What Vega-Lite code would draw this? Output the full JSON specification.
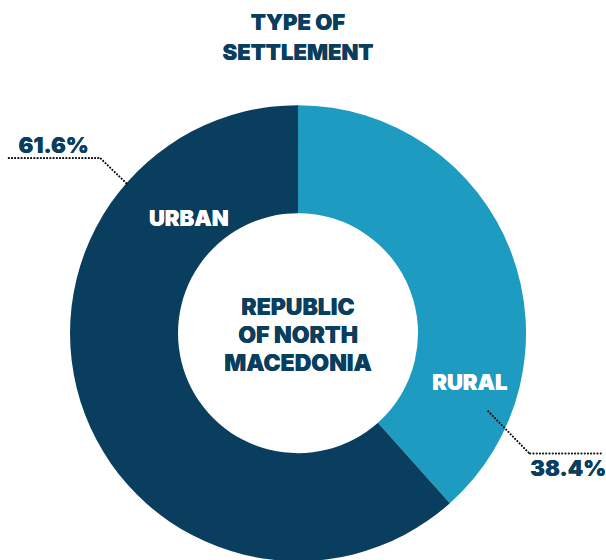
{
  "$schema": "https://vega.github.io/schema/vega-lite/v6.json",
  "width": 606,
  "height": 560,
  "padding": 0,
  "autosize": {"type": "fit", "contains": "padding"},
  "background": "white",
  "config": {"view": {"stroke": null}, "text": {"font": "Inter", "fontWeight": 900}},
  "data": {"values": [
    {"type": "RURAL", "share": 38.4},
    {"type": "URBAN", "share": 61.6}
  ]},
  "layer": [
    {
      "mark": {"type": "arc", "outerRadius": 228, "innerRadius": 120},
      "encoding": {
        "theta": {"field": "share", "type": "quantitative", "stack": true},
        "color": {"field": "type", "type": "nominal", "legend": null,
          "scale": {"domain": ["RURAL", "URBAN"], "range": ["#1d9bc1", "#0a3e5e"]}},
        "order": {"field": "type", "sort": "ascending"},
        "x": {"datum": 0, "type": "quantitative", "scale": {"domain": [-300, 306], "nice": false, "zero": false}, "axis": null},
        "y": {"datum": 0, "type": "quantitative", "scale": {"domain": [-225, 335], "nice": false, "zero": false}, "axis": null}
      }
    },
    {
      "mark": {"type": "text", "text": ["TYPE OF", "SETTLEMENT"], "fontSize": 22, "lineHeight": 30, "align": "center", "baseline": "alphabetic", "color": "#0a3e5e"},
      "encoding": {"x": {"datum": 0, "type": "quantitative"}, "y": {"datum": 305, "type": "quantitative"}}
    },
    {
      "mark": {"type": "text", "text": ["REPUBLIC", "OF NORTH", "MACEDONIA"], "fontSize": 23, "lineHeight": 28, "align": "center", "baseline": "alphabetic", "color": "#0a3e5e"},
      "encoding": {"x": {"datum": 0, "type": "quantitative"}, "y": {"datum": 18, "type": "quantitative"}}
    },
    {
      "mark": {"type": "text", "text": "URBAN", "fontSize": 22, "align": "center", "baseline": "alphabetic", "color": "white"},
      "encoding": {"x": {"datum": -110, "type": "quantitative"}, "y": {"datum": 108, "type": "quantitative"}}
    },
    {
      "mark": {"type": "text", "text": "RURAL", "fontSize": 22, "align": "center", "baseline": "alphabetic", "color": "white"},
      "encoding": {"x": {"datum": 173, "type": "quantitative"}, "y": {"datum": -57, "type": "quantitative"}}
    },
    {
      "mark": {"type": "text", "text": "61.6%", "fontSize": 22, "align": "center", "baseline": "alphabetic", "color": "#0a3e5e"},
      "encoding": {"x": {"datum": -246, "type": "quantitative"}, "y": {"datum": 181, "type": "quantitative"}}
    },
    {
      "mark": {"type": "text", "text": "38.4%", "fontSize": 22, "align": "center", "baseline": "alphabetic", "color": "#0a3e5e"},
      "encoding": {"x": {"datum": 272, "type": "quantitative"}, "y": {"datum": -144, "type": "quantitative"}}
    },
    {
      "mark": {"type": "rule", "color": "#111", "strokeWidth": 1.6, "strokeDash": [1.6, 1.6]},
      "encoding": {"x": {"datum": -292, "type": "quantitative"}, "x2": {"datum": -199}, "y": {"datum": 176, "type": "quantitative"}, "y2": {"datum": 176}}
    },
    {
      "mark": {"type": "rule", "color": "#111", "strokeWidth": 1.6, "strokeDash": [1.6, 1.6]},
      "encoding": {"x": {"datum": -199, "type": "quantitative"}, "x2": {"datum": -171}, "y": {"datum": 176, "type": "quantitative"}, "y2": {"datum": 149}}
    },
    {
      "mark": {"type": "rule", "color": "#111", "strokeWidth": 1.6, "strokeDash": [1.6, 1.6]},
      "encoding": {"x": {"datum": 191, "type": "quantitative"}, "x2": {"datum": 233}, "y": {"datum": -78, "type": "quantitative"}, "y2": {"datum": -121}}
    },
    {
      "mark": {"type": "rule", "color": "#111", "strokeWidth": 1.6, "strokeDash": [1.6, 1.6]},
      "encoding": {"x": {"datum": 233, "type": "quantitative"}, "x2": {"datum": 306}, "y": {"datum": -121, "type": "quantitative"}, "y2": {"datum": -121}}
    }
  ]
}
